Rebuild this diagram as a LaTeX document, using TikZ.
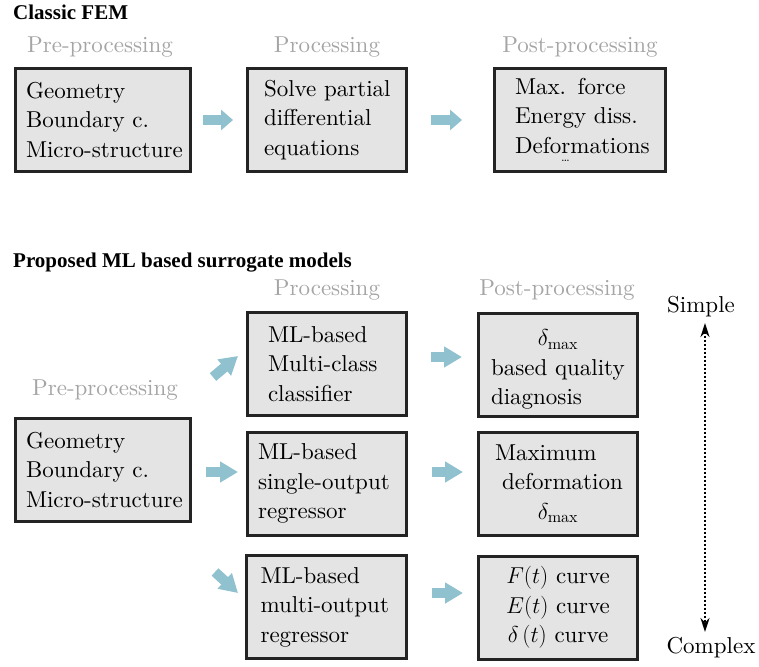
\RequirePackage{fix-cm}
\documentclass[tikz,border=0pt]{standalone}
\usepackage{fontspec}
\setmainfont{lmroman10-regular}[Extension=.otf, BoldFont=lmroman10-bold,
  ItalicFont=lmroman10-italic, BoldItalicFont=lmroman10-bolditalic]
\newfontfamily\headfont{Liberation Serif}
\usetikzlibrary{arrows.meta,calc}

\definecolor{boxfill}{RGB}{228,228,228}
\definecolor{boxline}{RGB}{35,35,35}
\definecolor{stagegray}{RGB}{165,165,165}
\definecolor{flowblue}{RGB}{143,193,206}

\newcommand\mybody{\fontsize{23}{29.5}\selectfont}

\tikzset{
  stagebox/.style={draw=boxline, line width=3pt, fill=boxfill, inner sep=0pt,
    minimum height=103pt, align=left, font=\mybody,
    execute at begin node={\hyphenpenalty=10000\exhyphenpenalty=10000\hbadness=10000\hfuzz=20pt}},
  stagelabel/.style={anchor=base, inner sep=0pt, text=stagegray, font=\mybody},
  sectiontitle/.style={anchor=base west, inner sep=0pt, font=\headfont\bfseries\fontsize{21}{25}\selectfont},
  flow/.style={color=flowblue, line width=10pt,
    -{Triangle[length=12pt,width=20pt]}},
  flowlong/.style={flow, -{Triangle[length=18pt,width=20pt]}},
  scalearrow/.style={line width=2pt, dotted,
    {Stealth[length=14pt,width=9pt]}-{Stealth[length=14pt,width=9pt]}},
}

\begin{document}
\begin{tikzpicture}[x=1pt, y=-1pt]
\useasboundingbox (0,0) rectangle (759,666);
\fill[white] (0,0) rectangle (759,666);

% ---------- classic FEM chain ----------
\node[sectiontitle] (fem) at (13,20) {Classic FEM};
\node[stagelabel] (pre1)  at (100,53) {Pre-processing};
\node[stagelabel] (proc1) at (327,53) {Processing};
\node[stagelabel] (post1) at (580,53) {Post-processing};

\node[stagebox, minimum width=175pt, text width=154pt] (b1) at (103,120)
  {Geometry\\\mbox{Boundary c.}\\Micro-structure};
\node[stagebox, minimum width=159pt, text width=126pt] (b2) at (327,120)
  {\mbox{Solve partial}\\differential\\equations};
\node[stagebox, minimum width=171pt, text width=130pt] (b3) at (580,120)
  {\mbox{Max. force}\\\mbox{Energy diss.}\\Deformations\\[-21pt]\hspace*{46pt}{\fontsize{13}{13}\selectfont\ldots}};

\draw[flow] ($(b1.east)+(11,0)$) -- ($(b2.west)+(-13,0)$);
\draw[flow] ($(b2.east)+(23,0)$) -- ($(b3.west)+(-31,0)$);

% ---------- surrogate models ----------
\node[sectiontitle] (ml) at (13,267) {Proposed ML based surrogate models};
\node[stagelabel] (proc2) at (327,295) {Processing};
\node[stagelabel] (post2) at (557,295) {Post-processing};
\node[stagelabel] (pre2)  at (105,395) {Pre-processing};

\node[stagebox, minimum width=175pt, text width=154pt] (in) at (103,470)
  {Geometry\\\mbox{Boundary c.}\\Micro-structure};

\node[stagebox, minimum width=159pt, text width=118pt] (p1) at (327,364)
  {ML-based\\Multi-class\\classifier};
\node[stagebox, minimum width=159pt, text width=138pt] (p2) at (327,483.5)
  {ML-based\\single-output\\regressor};
\node[stagebox, minimum width=160pt, text width=132pt] (p3) at (326.5,607)
  {ML-based\\multi-output\\regressor};

\node[stagebox, minimum width=159pt, text width=134pt] (q1) at (558,364.5)
  {\makebox[134pt]{\rule{0pt}{26pt}$\delta_{\mathrm{max}}$}\\\mbox{based quality}\\diagnosis};
\node[stagebox, minimum width=159pt, text width=126pt] (q2) at (558,483.5)
  {Maximum\\\hspace*{7pt}deformation\\\makebox[126pt]{$\delta_{\mathrm{max}}$}};
\node[stagebox, minimum width=159pt, align=center] (q3) at (558,607.5)
  {$F(t)$ curve\\$E(t)$ curve\\$\delta\,(t)$ curve};

\draw[flowlong] ($(in.north east)+(21,-40)$) -- ($(p1.south west)+(-8,-61)$);
\draw[flowlong] ($(in.east)+(14,2)$) -- ($(p2.west)+(-8,-11.5)$);
\draw[flowlong] ($(in.south east)+(23,49)$) -- ($(p3.west)+(-7,-14)$);

\draw[flowlong] ($(p1.east)+(23,-7)$) -- ($(q1.west)+(-15,-7.5)$);
\draw[flowlong] ($(p2.east)+(24,-11.5)$) -- ($(q2.west)+(-14,-11.5)$);
\draw[flowlong] ($(p3.east)+(24,-14)$) -- ($(q3.west)+(-14,-14.5)$);

% ---------- complexity scale ----------
\node[anchor=base, inner sep=0pt, font=\mybody] (simple)  at (701,312) {Simple};
\node[anchor=base, inner sep=0pt, font=\mybody] (complex) at (711,653) {Complex};
\coordinate (scaletop) at (705,323);
\coordinate (scalebot) at (705,632);
\draw[scalearrow] (scaletop) -- (scalebot);
\end{tikzpicture}
\end{document}
